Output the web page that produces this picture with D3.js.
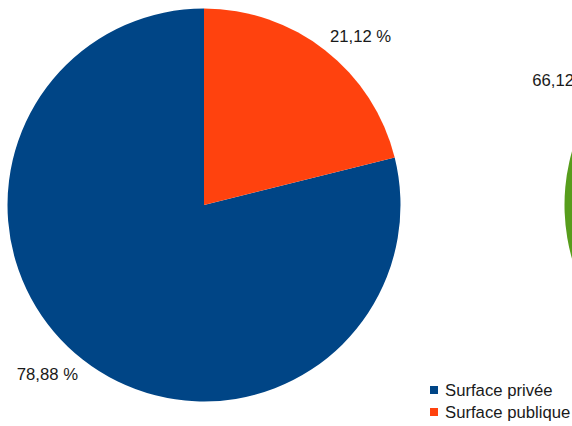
<!DOCTYPE html>
<html>
<head>
<meta charset="utf-8">
<script src="https://cdn.jsdelivr.net/npm/d3@7"></script>
<style>
  html, body { margin: 0; padding: 0; background: #fff; overflow: hidden; }
  svg { display: block; }
  text { font-family: "Liberation Sans", Arial, sans-serif; fill: #1a1a1a; }
</style>
</head>
<body>
<svg id="chart" width="572" height="426"></svg>
<script>
// ---- data ----
const categories = ["Surface privée", "Surface publique"];
const values1 = [78.88, 21.12];
const labels1 = ["78,88 %", "21,12 %"];
const colors1 = ["#004586", "#ff420e"];

// second pie (mostly off-canvas)
const values2 = [66.12, 33.88];
const labels2 = ["66,12 %", "33,88 %"];
const colors2 = ["#579d1c", "#ffd320"];

// ---- layout ----
const W = 572, H = 426;
const R = 196.5;
const fontSize = 16.7;
const svg = d3.select("#chart");

function drawPie(cx, cy, values, labels, colors, start) {
  const pie = d3.pie().sort(null).value(d => d)
    .startAngle(start).endAngle(start - 2 * Math.PI);
  const arc = d3.arc().innerRadius(0).outerRadius(R);
  const arcs = pie(values);
  const g = svg.append("g").attr("transform", `translate(${cx},${cy})`);
  g.selectAll("path").data(arcs).join("path")
    .attr("d", arc)
    .attr("fill", (d, i) => colors[i]);
  const lg = svg.append("g");
  arcs.forEach((d, i) => {
    const mid = (d.startAngle + d.endAngle) / 2;
    const ux = Math.sin(mid), uy = -Math.cos(mid);
    const px = cx + ux * (R + 8), py = cy + uy * (R + 8);
    lg.append("text")
      .attr("x", px)
      .attr("y", uy < 0 ? py - 2 : py + 14)
      .attr("text-anchor", ux >= 0 ? "start" : "end")
      .attr("font-size", fontSize)
      .text(labels[i]);
  });
}

drawPie(204, 205, values1, labels1, colors1, 0);
drawPie(761, 205, values2, labels2, colors2, 64 * Math.PI / 180);

// ---- legend ----
const legend = svg.append("g").attr("transform", "translate(430,386)");
categories.forEach((c, i) => {
  const row = legend.append("g").attr("transform", `translate(0,${i * 22})`);
  row.append("rect").attr("x", 0).attr("y", 0).attr("width", 8).attr("height", 8)
    .attr("fill", colors1[i]);
  row.append("text").attr("x", 15).attr("y", 9.5)
    .attr("font-size", fontSize).text(c);
});
</script>
</body>
</html>
